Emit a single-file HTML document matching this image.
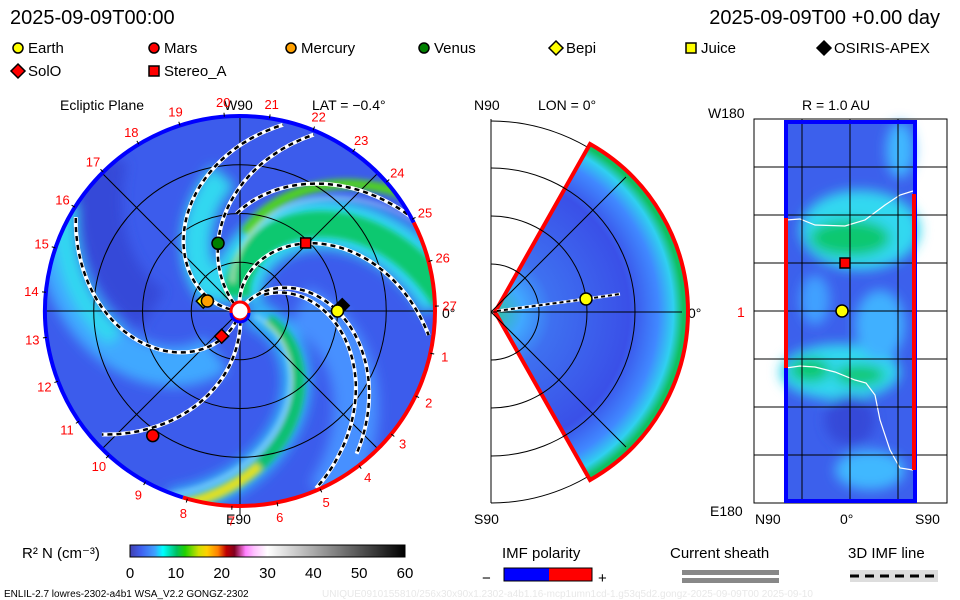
<!DOCTYPE html>
<html><head><meta charset="utf-8"><style>
body{margin:0;background:#fff;}
svg{display:block;font-family:"Liberation Sans",sans-serif;}
</style></head><body>
<svg id="c" width="960" height="600" viewBox="0 0 960 600">
<defs>
<clipPath id="disc"><circle cx="240" cy="311" r="195"/></clipPath>
<filter id="bl" x="-20%" y="-20%" width="140%" height="140%"><feGaussianBlur stdDeviation="6"/></filter>
<filter id="bl2" x="-20%" y="-20%" width="140%" height="140%"><feGaussianBlur stdDeviation="3"/></filter>
<radialGradient id="wg" cx="494" cy="312" r="193" gradientUnits="userSpaceOnUse">
<stop offset="0" stop-color="#30c0a0"/><stop offset="0.15" stop-color="#40a8ff"/><stop offset="0.3" stop-color="#3e70f0"/>
<stop offset="0.7" stop-color="#3a50e8"/><stop offset="0.85" stop-color="#4088ff"/><stop offset="0.93" stop-color="#30d0f0"/>
<stop offset="0.98" stop-color="#10c060"/><stop offset="1" stop-color="#10c060"/></radialGradient>
<linearGradient id="cb" x1="0" x2="1">
<stop offset="0" stop-color="#4040b0"/><stop offset="0.04" stop-color="#4060f0"/><stop offset="0.09" stop-color="#40a0ff"/>
<stop offset="0.12" stop-color="#00ffff"/><stop offset="0.17" stop-color="#00c060"/><stop offset="0.2" stop-color="#20d000"/>
<stop offset="0.25" stop-color="#d0e000"/><stop offset="0.28" stop-color="#ffd000"/><stop offset="0.32" stop-color="#ff8000"/>
<stop offset="0.35" stop-color="#c00000"/><stop offset="0.38" stop-color="#800020"/><stop offset="0.42" stop-color="#ff80ff"/>
<stop offset="0.45" stop-color="#ffc0ff"/><stop offset="0.5" stop-color="#ffffff"/><stop offset="1" stop-color="#000000"/></linearGradient>
</defs>

<text x="10" y="24" font-size="20">2025-09-09T00:00</text>
<text x="940" y="24" font-size="20" text-anchor="end">2025-09-09T00 +0.00 day</text>
<g id="legend" font-size="15"></g>

<g id="ecl">
<text x="60" y="110" font-size="14">Ecliptic Plane</text>
<text x="312" y="110" font-size="14">LAT = −0.4°</text>
<text x="224" y="110" font-size="14">W90</text>
<text x="226" y="524" font-size="14">E90</text>
<text x="442" y="318" font-size="14">0°</text>
<g clip-path="url(#disc)" id="discg">
<circle cx="240" cy="311" r="195" fill="#3c5cec"/>
<g id="bands" filter="url(#bl)"></g>
<g id="bands2" filter="url(#bl2)"></g>
</g>
<g id="grid" stroke="#000" stroke-width="1" fill="none"></g>
<g id="flines"></g>
<g id="rim"></g>
<g id="dlabels" font-size="13" fill="#f00"></g>
<g id="pmarks"></g>
<circle cx="240" cy="311" r="9" fill="#fff" stroke="#f00" stroke-width="3"/>
<path d="M231,313 A9,9 0 0,0 249,313" fill="none" stroke="#00f" stroke-width="3"/>
</g>

<g id="mer">
<text x="474" y="110" font-size="14">N90</text>
<text x="538" y="110" font-size="14">LON = 0°</text>
<text x="474" y="524" font-size="14">S90</text>
<text x="688" y="318" font-size="14">0°</text>
<path d="M491,119 L491,503" stroke="#000"/>
<g id="merg"></g>
</g>

<g id="rad">
<text x="802" y="110" font-size="14">R = 1.0 AU</text>
<text x="708" y="118" font-size="14">W180</text>
<text x="710" y="516" font-size="14">E180</text>
<text x="755" y="524" font-size="14">N90</text>
<text x="840" y="524" font-size="14">0°</text>
<text x="915" y="524" font-size="14">S90</text>
<text x="737" y="317" font-size="14" fill="#f00">1</text>
<rect x="786" y="122" width="129" height="379" fill="#3c60ec"/>
<g filter="url(#bl)">
<ellipse cx="860" cy="230" rx="60" ry="40" fill="#30d8f0"/>
<ellipse cx="850" cy="238" rx="40" ry="18" fill="#10c870"/>
<ellipse cx="840" cy="372" rx="60" ry="28" fill="#30d8f0"/>
<ellipse cx="810" cy="370" rx="20" ry="12" fill="#10c870"/>
<ellipse cx="860" cy="375" rx="25" ry="10" fill="#10c870"/>
<ellipse cx="850" cy="420" rx="25" ry="25" fill="#3448d8"/>
<ellipse cx="880" cy="325" rx="25" ry="35" fill="#40b0ff"/>
<ellipse cx="870" cy="470" rx="35" ry="20" fill="#40b8ff"/>
<ellipse cx="900" cy="150" rx="14" ry="28" fill="#40b8ff"/>
<ellipse cx="815" cy="300" rx="15" ry="25" fill="#40a0ff"/>
</g>
<path d="M786,220 L800,219 L815,225 L845,226 L865,220 L885,205 L900,195 L913,191" fill="none" stroke="#fff" stroke-width="1.2"/>
<path d="M786,368 L800,366 L815,367 L835,372 L855,380 L866,383 L875,395 L880,420 L890,450 L900,468 L913,470" fill="none" stroke="#fff" stroke-width="1.2"/>
<g id="radg"></g>
</g>

<g>
<text x="22" y="558" font-size="15">R² N (cm⁻³)</text>
<rect x="130" y="545" width="275" height="12" fill="url(#cb)" stroke="#000" stroke-width="1"/>
<g id="cbt" font-size="15"></g>
</g>
<g>
<text x="502" y="558" font-size="15">IMF polarity</text>
<text x="482" y="583" font-size="15">−</text>
<rect x="504" y="568" width="45" height="13" fill="#00f"/><rect x="549" y="568" width="43" height="13" fill="#f00"/>
<rect x="504" y="568" width="88" height="13" fill="none" stroke="#000"/>
<text x="598" y="583" font-size="15">+</text>
</g>
<g>
<text x="670" y="558" font-size="15">Current sheath</text>
<rect x="682" y="570" width="97" height="5" fill="#888"/><rect x="682" y="578" width="97" height="5" fill="#888"/>
</g>
<g>
<text x="848" y="558" font-size="15">3D IMF line</text>
<rect x="850" y="570" width="88" height="12" fill="#ddd"/>
<line x1="850" y1="576" x2="938" y2="576" stroke="#000" stroke-width="3" stroke-dasharray="9,6"/>
</g>
<text x="4" y="597" font-size="10">ENLIL-2.7 lowres-2302-a4b1 WSA_V2.2 GONGZ-2302</text>
<text x="322" y="597" font-size="10" fill="#e8e8e8">UNIQUE0910155810/256x30x90x1.2302-a4b1.16-mcp1umn1cd-1.g53q5d2.gongz-2025-09-09T00   2025-09-10</text>
</svg>
<script>
const NS="http://www.w3.org/2000/svg";
const legendNames=["Earth","Mars","Mercury","Venus","Bepi","Juice","OSIRIS-APEX","SolO","Stereo_A"];
const legendShapes=["circle","circle","circle","circle","diamond","square","diamond","diamond","square"];
const legendColors=["#ffff00","#ff0000","#ffa000","#008000","#ffff00","#ffff00","#000000","#ff0000","#ff0000"];
// planet positions: radius (AU), ecliptic angle (deg, counter-clockwise from +x)
const bodyNames=["Bepi","Mercury","Venus","Stereo_A","OSIRIS-APEX","Earth","SolO","Mars"];
const bodyR=[0.39,0.35,0.73,0.97,1.05,1.0,0.32,1.56];
const bodyAng=[165,163,108,46,3,0,234,235];
// field lines: phi(r) = phi0 - k*r
const lineP0=[57,52,98,155,132,175,255,-85];
const lineK=[57,60,54,63,33,50,54,28];
const lineR0=[0.05,0.3,0.05,1.0,0.1,0.1,0.1,0.1];
const lineR1=[1.9,1.98,1.96,2.0,1.97,1.97,1.95,1.9];
const dayLabels=[1,2,3,4,5,6,7,8,9,10,11,12,13,14,15,16,17,18,19,20,21,22,23,24,25,26,27];
const cbTicks=[0,10,20,30,40,50,60];
const CX=240,CY=311,AU=97.5;
function px(r,a){return [CX+r*AU*Math.cos(a*Math.PI/180), CY-r*AU*Math.sin(a*Math.PI/180)];}
function mk(t,at,parent){const e=document.createElementNS(NS,t);for(const k in at)e.setAttribute(k,at[k]);parent.appendChild(e);return e;}
function marker(shape,x,y,s,col,parent){
  if(shape==="circle") return mk("circle",{cx:x,cy:y,r:s,fill:col,stroke:"#000","stroke-width":1.5},parent);
  if(shape==="square") return mk("rect",{x:x-s,y:y-s,width:2*s,height:2*s,fill:col,stroke:"#000","stroke-width":1.5},parent);
  return mk("path",{d:`M${x},${y-s*1.4}L${x+s*1.4},${y}L${x},${y+s*1.4}L${x-s*1.4},${y}Z`,fill:col,stroke:"#000","stroke-width":1.5},parent);
}
const lg=document.getElementById("legend");
const lgX=[12,148,285,418,550,685,818,12,148], lgY=[48,48,48,48,48,48,48,71,71];
legendNames.forEach((n,i)=>{
  const g=mk("g",{},lg);
  
  
  marker(legendShapes[i],lgX[i]+6,lgY[i],5,legendColors[i],g);
  const t=mk("text",{x:lgX[i]+16,y:lgY[i]+5},g);t.textContent=n;
});
function spiral(p0,k,r0,r1){let d="";for(let r=r0;r<=r1+1e-6;r+=0.02){const [x,y]=px(r,p0-k*r);d+=(d?"L":"M")+x.toFixed(1)+","+y.toFixed(1);}return d;}
const bands=document.getElementById("bands"),bands2=document.getElementById("bands2");
// background density bands
mk("path",{d:spiral(30,45,0.6,2.1),stroke:"#4690ff","stroke-width":45,fill:"none"},bands);
mk("path",{d:spiral(268,54,0.5,2.1),stroke:"#40a8ff","stroke-width":40,fill:"none"},bands);
mk("path",{d:spiral(262,54,1.3,2.1),stroke:"#30d8f0","stroke-width":22,fill:"none"},bands);
mk("path",{d:spiral(160,45,0.3,1.4),stroke:"#30d8f0","stroke-width":30,fill:"none"},bands);
mk("path",{d:spiral(108,50,0.1,2.1),stroke:"#30d8f0","stroke-width":50,fill:"none"},bands);
mk("path",{d:spiral(-5,50,0.1,2.1),stroke:"#30b8f8","stroke-width":28,fill:"none"},bands);
mk("path",{d:spiral(215,40,0.9,2.1),stroke:"#3448d8","stroke-width":45,fill:"none"},bands);
mk("path",{d:spiral(108,50,0.15,2.1),stroke:"#10c870","stroke-width":26,fill:"none"},bands2);
mk("path",{d:spiral(118,40,0.8,2.1),stroke:"#50d020","stroke-width":10,fill:"none"},bands2);
mk("path",{d:spiral(-3,50,0.3,2.1),stroke:"#10c070","stroke-width":12,fill:"none"},bands2);
mk("path",{d:spiral(-3,50,1.6,2.1),stroke:"#e0e020","stroke-width":10,fill:"none"},bands2);
mk("path",{d:spiral(-10,50,0.15,2.1),stroke:"#fff","stroke-width":1.5,fill:"none"},bands2);
mk("path",{d:spiral(118,45,0.3,2.1),stroke:"#fff","stroke-width":1.5,fill:"none"},bands2);
// grid
const grid=document.getElementById("grid");
[0.5,1,1.5].forEach(r=>mk("circle",{cx:CX,cy:CY,r:r*AU},grid));
mk("line",{x1:CX,y1:CY-195,x2:CX,y2:CY+205},grid);
mk("line",{x1:CX-195,y1:CY,x2:CX+195,y2:CY},grid);
const dd=195/Math.SQRT2;
mk("line",{x1:CX-dd,y1:CY-dd,x2:CX+dd,y2:CY+dd},grid);
mk("line",{x1:CX-dd,y1:CY+dd,x2:CX+dd,y2:CY-dd},grid);
// field lines
const fl=document.getElementById("flines");
lineP0.forEach((p,i)=>{
  const d=spiral(p,lineK[i],lineR0[i],lineR1[i]);
  const g=mk("g",{},fl);
  
  
  mk("path",{d,stroke:"#fff","stroke-width":4,fill:"none"},g);
  mk("path",{d,stroke:"#000","stroke-width":2.5,fill:"none","stroke-dasharray":"5,4"},g);
});
// rim
const rim=document.getElementById("rim");
function arc(a0,a1,col){const [x0,y0]=px(2,a0),[x1,y1]=px(2,a1);const large=((a1-a0+720)%360)>180?1:0;
  return mk("path",{d:`M${x0},${y0}A195,195 0 ${large},0 ${x1},${y1}`,stroke:col,"stroke-width":4,fill:"none"},rim);}
const ra=arc(27,253,"#0000ff");
const rb=arc(253,387,"#ff0000");
const dl=document.getElementById("dlabels");
dayLabels.forEach(n=>{
  const a=-12.5-(n-1)*13.31;
  const [x,y]=px(2.15,a);
  const t=mk("text",{x:x.toFixed(1),y:(y+5).toFixed(1),"text-anchor":"middle"},dl);
  
  
  t.textContent=n;
  const [tx0,ty0]=px(2,a),[tx1,ty1]=px(2.04,a);
  mk("line",{x1:tx0,y1:ty0,x2:tx1,y2:ty1,stroke:"#000"},dl);
});
// bodies
const pm=document.getElementById("pmarks");
bodyNames.forEach((n,i)=>{
  const j=legendNames.indexOf(n);const [x,y]=px(bodyR[i],bodyAng[i]);
  const m=marker(legendShapes[j],x,y,n==="Stereo_A"?5:(legendShapes[j]==="diamond"?5:6),legendColors[j],pm);
  
  
});
// meridional panel
const mg=document.getElementById("merg");const MX=491,MY=312;
[48,96,144,191].forEach(r=>mk("path",{d:`M${MX},${MY-r}A${r},${r} 0 0,1 ${MX},${MY+r}`,stroke:"#000",fill:"none"},mg));
mk("path",{d:`M${MX},119 L${MX},503`,stroke:"#000"},mg);
const WA=60.5,WR=193,ax=495;
const wx=ax+WR*Math.cos(WA*Math.PI/180),wy=WR*Math.sin(WA*Math.PI/180);
const wedge=mk("path",{d:`M${ax},${MY}L${wx},${MY-wy}A${WR},${WR} 0 0,1 ${wx},${MY+wy}Z`,fill:"url(#wg)",stroke:"#f00","stroke-width":4},mg);

mk("line",{x1:MX,y1:MY,x2:MX+191,y2:MY,stroke:"#000"},mg);
mk("line",{x1:MX,y1:MY,x2:MX+135,y2:MY-135,stroke:"#000"},mg);
mk("line",{x1:MX,y1:MY,x2:MX+135,y2:MY+135,stroke:"#000"},mg);
[48,96,144].forEach(r=>mk("path",{d:`M${MX+r*0.5},${MY-r*0.866}A${r},${r} 0 0,1 ${MX+r*0.5},${MY+r*0.866}`,stroke:"#000",fill:"none"},mg));
mk("path",{d:`M497,311 L586,299 L620,294`,stroke:"#fff","stroke-width":3,fill:"none"},mg);
mk("path",{d:`M497,311 L586,299 L620,294`,stroke:"#000","stroke-width":2,"stroke-dasharray":"4,3",fill:"none"},mg);
const em=marker("circle",586,299,6,"#ffff00",mg);
// radial panel grid
const rg=document.getElementById("radg");
[167,215,263,311,359,407,455].forEach(y=>mk("line",{x1:754,y1:y,x2:947,y2:y,stroke:"#000"},rg));
[802,850,898].forEach(x=>mk("line",{x1:x,y1:119,x2:x,y2:503,stroke:"#000"},rg));
mk("rect",{x:754,y:119,width:193,height:384,fill:"none",stroke:"#000"},rg);
mk("rect",{x:786,y:122,width:129,height:379,fill:"none",stroke:"#00f","stroke-width":4},rg);
mk("line",{x1:786,y1:218,x2:786,y2:368,stroke:"#f00","stroke-width":4},rg);
mk("line",{x1:914,y1:194,x2:914,y2:470,stroke:"#f00","stroke-width":4},rg);
const rs=marker("square",845,263,5,"#ff0000",rg);
const re=marker("circle",842,311,6,"#ffff00",rg);
// colorbar ticks
const cbt=document.getElementById("cbt");
cbTicks.forEach(v=>{const x=130+v/60*275;const t=mk("text",{x:x,y:578,"text-anchor":"middle"},cbt);
  t.textContent=v;});
</script>
</body></html>
